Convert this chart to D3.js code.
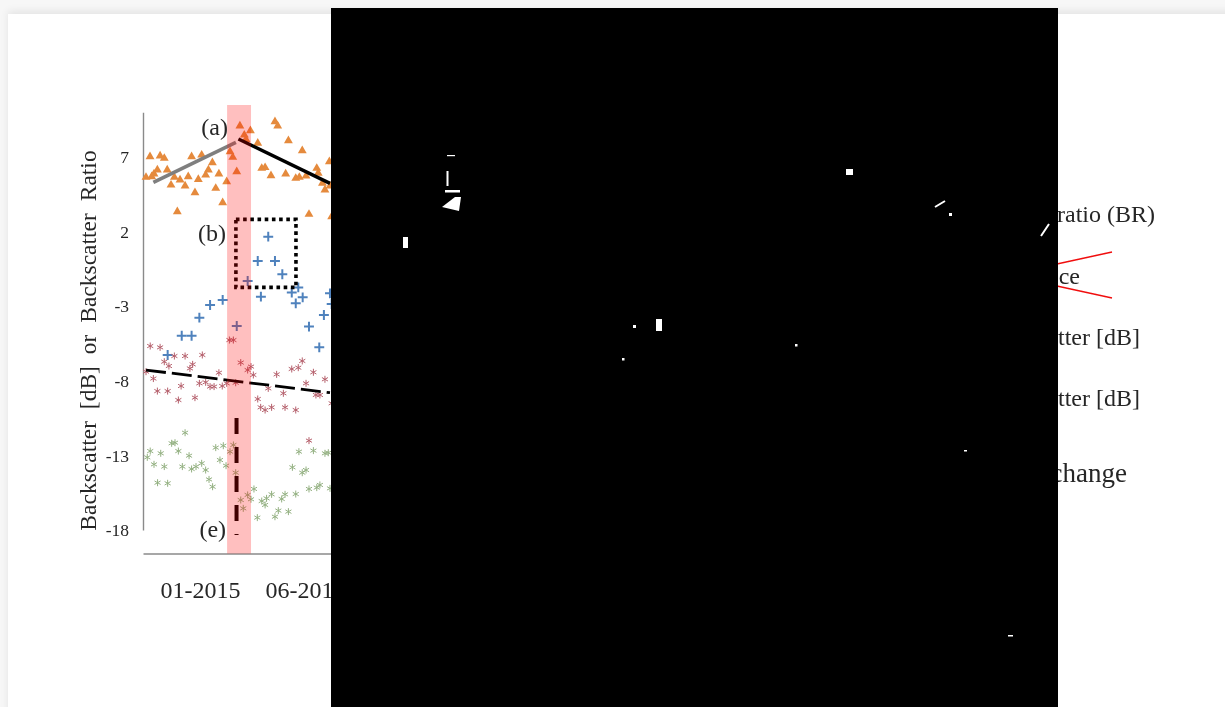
<!DOCTYPE html>
<html>
<head>
<meta charset="utf-8">
<script src="https://cdn.jsdelivr.net/npm/d3@7"></script>
<style>
  html, body { margin: 0; padding: 0; background: #f7f7f7; overflow: hidden; }
  #card { position: absolute; left: 8px; top: 14px; width: 1400px; height: 900px; background: #fff; box-shadow: 0 -3px 8px rgba(0,0,0,0.08); }
  svg { position: absolute; left: 0; top: 0; }
  text { font-family: "Liberation Serif", serif; fill: #262626; }
</style>
</head>
<body>
<div id="card"></div>
<div id="chart"></div>
<script>
const ratioPts = [[-2.38,7.02],[-1.9,7.07],[-1.7,6.91],[-0.4,7.02],[0.08,7.13],[0.59,6.62],[-2.57,5.64],[-2.3,5.68],[-2.03,6.13],[-1.56,6.13],[-2.19,5.86],[-1.38,5.12],[-1.22,5.64],[-0.95,5.46],[-0.71,5.06],[-0.56,5.68],[-0.24,4.61],[-0.08,5.5],[0.27,5.79],[0.4,6.13],[0.9,5.86],[1.27,5.35],[0.75,4.9],[1.08,3.94],[-1.08,3.34],[1.43,7.36],[1.56,6.98],[1.75,6.02],[1.9,9.08],[2.11,8.47],[2.4,8.76],[2.19,8.18],[2.75,7.92],[3.57,9.37],[3.7,9.08],[4.21,8.09],[4.87,7.42],[2.94,6.24],[3.1,6.29],[3.38,5.75],[4.08,5.86],[4.56,5.57],[4.73,5.64],[5.05,5.73],[5.56,6.24],[5.63,5.91],[5.83,5.24],[5.95,4.79],[6.19,5.06],[6.16,6.69],[5.19,3.16],[6.27,3]];
const diffPts = [[3.25,1.66],[2.75,0.03],[3.57,0.03],[3.92,-0.86],[2.27,-1.31],[2.9,-2.36],[4.37,-2.09],[4.68,-1.74],[4.89,-2.41],[4.56,-2.81],[6.19,-2.14],[6.27,-2.85],[1.08,-2.58],[0.48,-2.92],[-0.03,-3.77],[1.75,-4.33],[5.9,-3.59],[5.19,-4.37],[-0.87,-4.98],[-0.4,-4.98],[-1.54,-6.27],[5.68,-5.76]];
const redPts = [[-2.37,-5.67],[-1.9,-5.76],[-1.22,-6.34],[-0.71,-6.34],[0.11,-6.27],[-1.7,-6.72],[-1.48,-7.01],[-0.35,-6.9],[-0.48,-7.17],[-2.22,-7.85],[-2.57,-7.39],[-2.03,-8.69],[-1.54,-8.69],[-0.9,-8.35],[-1.03,-9.29],[-0.24,-9.13],[-0.03,-8.17],[0.27,-8.1],[0.48,-8.39],[0.67,-8.39],[1.06,-8.35],[1.27,-8.17],[0.9,-7.46],[1.7,-8.13],[1.4,-5.27],[1.59,-5.27],[1.94,-6.78],[2.43,-7.05],[2.27,-7.28],[2.54,-7.61],[3.25,-8.51],[3.65,-7.57],[3.97,-8.84],[4.37,-7.21],[4.68,-7.12],[4.87,-6.67],[5.4,-7.43],[5.05,-8.17],[5.52,-8.95],[5.71,-8.95],[5.95,-7.9],[2.75,-9.22],[2.89,-9.78],[3.1,-9.96],[3.41,-9.78],[4.05,-9.78],[4.56,-9.96],[5.19,-12.01],[6.27,-9.51]];
const greenPts = [[-0.71,-11.48],[-1.35,-12.19],[-1.19,-12.15],[-1.03,-12.71],[-2.37,-12.71],[-1.87,-12.86],[-2.51,-13.13],[-2.19,-13.6],[-1.7,-13.75],[-0.84,-13.75],[-0.52,-13.02],[-0.4,-13.91],[-0.19,-13.75],[0.08,-13.53],[0.27,-13.98],[0.43,-14.61],[0.6,-15.1],[-2.02,-14.83],[-1.54,-14.87],[0.75,-12.48],[1.11,-12.35],[1.59,-12.3],[1.43,-12.75],[0.95,-13.31],[1.24,-13.69],[1.7,-14.16],[2.57,-15.25],[1.94,-15.99],[2.27,-15.65],[2.43,-15.94],[2.06,-16.55],[2.94,-16.06],[3.17,-15.88],[3.41,-15.61],[3.1,-16.32],[3.89,-15.92],[4.05,-15.61],[4.56,-15.59],[2.73,-17.17],[3.57,-17.11],[3.73,-16.7],[4.21,-16.77],[4.4,-13.8],[4.87,-14.16],[5.05,-13.98],[4.71,-12.75],[5.4,-12.68],[5.95,-12.86],[6.11,-12.82],[5.19,-15.25],[5.56,-15.16],[5.71,-14.98],[6.19,-15.21]];

const grayTrend = [[-2.22,5.3],[1.71,7.98]];
const blackTrend = [[1.83,8.21],[6.19,5.23]];
const dashedTrend = [[-2.57,-7.28],[6.19,-8.8]];
const breakLine = [[1.74,-10.49],[1.74,-18.33]];
const boxCorners = [1.71,4.57,2.82,-1.74]; // t0, t1, v0, v1
const bandRange = [1.29,2.43];
const yTicks = [7,2,-3,-8,-13,-18];
const xTicks = [0,5];
const notes = [['(a)',1.33,8.47],['(b)',1.24,1.37],['(e)',1.24,-18.47]];
const legendBits = ['ratio (BR)','ce','tter [dB]','tter [dB]','change'];

const svg = d3.select('#chart').append('svg').attr('width',1225).attr('height',707);
const defs = svg.append('defs');
defs.append('filter').attr('id','soft').append('feGaussianBlur').attr('stdDeviation',0.5);

const g = svg.append('g').attr('filter','url(#soft)');

const x = d3.scaleLinear().domain([-2.714,40]).range([143,1040]);
const y = d3.scaleLinear().domain([-18,10]).range([530,112.2]);
const xBase = 553.5;

const axisY = g.append('g').attr('transform','translate(143,0)')
  .call(d3.axisLeft(y).tickValues(yTicks).tickSize(0).tickPadding(14).tickFormat(d => String(d)));
axisY.select('.domain').attr('stroke','#8a8a8a').attr('stroke-width',1.4);
axisY.selectAll('text').attr('font-size',17.5).attr('font-family','"Liberation Serif", serif').attr('fill','#262626');

const axisX = g.append('g').attr('transform',`translate(0,${xBase})`)
  .call(d3.axisBottom(x).tickValues(xTicks).tickSize(0).tickPadding(27)
    .tickFormat(m => d3.timeFormat('%m-%Y')(new Date(2015,m,1))));
axisX.select('.domain').attr('stroke','#8a8a8a').attr('stroke-width',1.4);
axisX.selectAll('text').attr('font-size',24).attr('font-family','"Liberation Serif", serif').attr('fill','#262626');

g.append('text').attr('transform','translate(96,340.5) rotate(-90)').attr('text-anchor','middle')
  .attr('font-size',23.5).style('word-spacing','6px').text('Backscatter [dB] or Backscatter Ratio');

const at = d => `translate(${x(d[0])},${y(d[1])})`;

g.append('g').selectAll('path').data(ratioPts).enter().append('path')
  .attr('transform',at).attr('fill','#e58a3c')
  .attr('d',d3.symbol(d3.symbolTriangle,34));
g.append('g').selectAll('path').data(diffPts).enter().append('path')
  .attr('transform',at).attr('fill','none').attr('stroke','#4f82bd').attr('stroke-width',2)
  .attr('d',d3.symbol(d3.symbolPlus,34));
g.append('g').selectAll('path').data(redPts).enter().append('path')
  .attr('transform',at).attr('fill','none').attr('stroke','#b5606c').attr('stroke-width',1)
  .attr('d',d3.symbol(d3.symbolAsterisk,34));
g.append('g').selectAll('path').data(greenPts).enter().append('path')
  .attr('transform',at).attr('fill','none').attr('stroke','#93b081').attr('stroke-width',1)
  .attr('d',d3.symbol(d3.symbolAsterisk,34));

const line = d3.line().x(d=>x(d[0])).y(d=>y(d[1]));
g.append('path').attr('d',line(grayTrend)).attr('stroke','#7f7f7f').attr('stroke-width',3.6).attr('fill','none');
g.append('path').attr('d',line(blackTrend)).attr('stroke','#000').attr('stroke-width',3.4).attr('fill','none');
g.append('path').attr('d',line(dashedTrend)).attr('stroke','#000').attr('stroke-width',2.8).attr('stroke-dasharray','20 6').attr('fill','none');
g.append('path').attr('d',line(breakLine)).attr('stroke','#000').attr('stroke-width',4).attr('stroke-dasharray','16 13').attr('fill','none');

g.append('rect').attr('x',x(boxCorners[0])).attr('y',y(boxCorners[2]))
  .attr('width',x(boxCorners[1])-x(boxCorners[0])).attr('height',y(boxCorners[3])-y(boxCorners[2]))
  .attr('fill','none').attr('stroke','#000').attr('stroke-width',3.6).attr('stroke-dasharray','3.6 3.6');

// band sits on top of the marks, that is why they tint under it
g.append('rect').attr('x',x(bandRange[0])).attr('width',x(bandRange[1])-x(bandRange[0]))
  .attr('y',105).attr('height',xBase-105).attr('fill','#ff0000').attr('opacity',0.25);

g.selectAll('.note').data(notes).enter().append('text').attr('class','note')
  .attr('x',d=>x(d[1])).attr('y',d=>y(d[2])).attr('text-anchor','end').attr('font-size',24).text(d=>d[0]);

// right hand labels, only the parts the black block leaves visible
const legendRight = [1155,1080,1140,1140,1127];
const legendBase = [222,284,345,406,482];
g.selectAll('.bit').data(legendBits).enter().append('text').attr('class','bit')
  .attr('x',(d,i)=>legendRight[i]).attr('y',(d,i)=>legendBase[i]).attr('text-anchor','end')
  .attr('font-size',(d,i)=>i===4?27:24).text(d=>d);

g.append('path').attr('d','M1050,265.5L1112,252M1050,284.5L1112,298').attr('stroke','#f01010').attr('stroke-width',1.5).attr('fill','none');

// black block covering the middle of the figure, with its leftover white flecks
svg.append('rect').attr('x',331).attr('y',8).attr('width',727).attr('height',699).attr('fill','#000');
const flecks = [[447,155,8,1.2],[446.5,171,2,15],[445,190,15,2.5],[403,237,5,11],[656,319,6,12],[633,325,3,3],[846,169,7,6],[949,213,3,3],[622,358,2.5,2.5],[795,344,2.5,2.5],[964,450,3,1.5],[1008,635,5,1.5]];
const fleckLayer = svg.append('g').attr('filter','url(#soft)');
fleckLayer.selectAll('rect').data(flecks).enter().append('rect')
  .attr('x',d=>d[0]).attr('y',d=>d[1]).attr('width',d=>d[2]).attr('height',d=>d[3]).attr('fill','#fff');
fleckLayer.append('path').attr('d','M442,207L455,197L461,197L459,211Z').attr('fill','#fff');
fleckLayer.append('path').attr('d','M935,207L945,201M1041,236L1049,224').attr('stroke','#fff').attr('stroke-width',2);
</script>
</body>
</html>
